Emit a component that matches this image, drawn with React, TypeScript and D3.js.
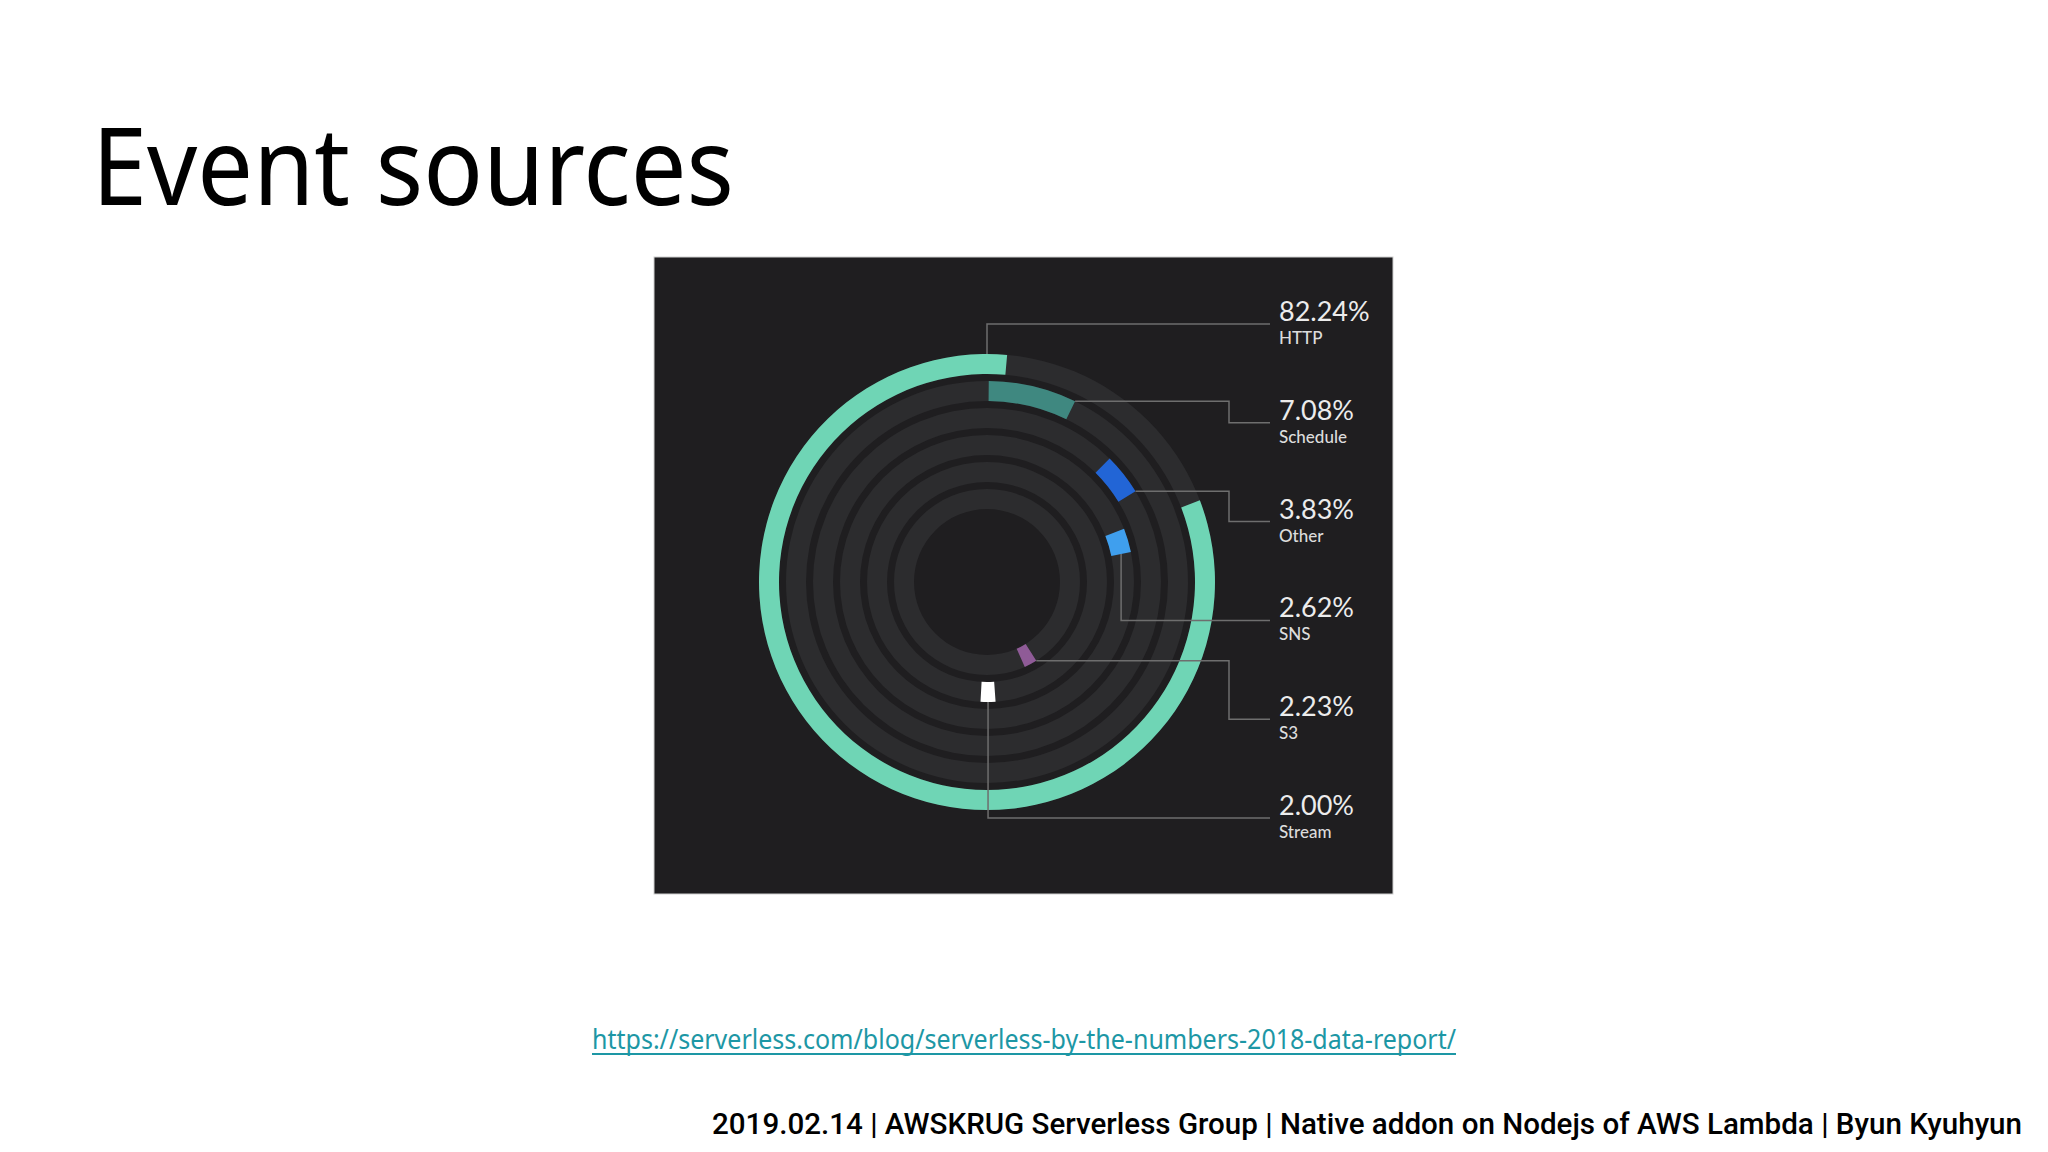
import * as d3 from "d3";

// event source shares, as labelled in the report
const categories = ["HTTP", "Schedule", "Other", "SNS", "S3", "Stream"];
const shares = [82.24, 7.08, 3.83, 2.62, 2.23, 2.0];
// where each arc begins, in degrees clockwise from 12 o'clock
const arcStartDeg = [69, 0.5, 44.8, 68.8, 148, 175.9];

const colors = ["#6fd5b5", "#3f8880", "#2265d6", "#3f9fee", "#8f5b97", "#ffffff"];
// ring index per category, 0 = outermost
const ringIndex = [0, 1, 2, 3, 5, 4];

type Anchor = { angle: "start" | "end" | "mid" | "zero"; radius: "outer" | "mid"; route: "hvh" | "vh" };
const anchors: Anchor[] = [
  { angle: "zero", radius: "outer", route: "vh" },
  { angle: "end", radius: "outer", route: "hvh" },
  { angle: "end", radius: "outer", route: "hvh" },
  { angle: "end", radius: "mid", route: "vh" },
  { angle: "start", radius: "outer", route: "hvh" },
  { angle: "mid", radius: "outer", route: "vh" },
];

const W = 2048;
const H = 1152;
const cx = 987;
const cy = 582;
const ringWidth = 20;

const fmt = d3.format(".2f");

const App = () => {
  const angle = d3.scaleLinear().domain([0, 100]).range([0, 2 * Math.PI]);
  const rad = (deg: number) => (deg * Math.PI) / 180;
  const outerR = d3.scaleLinear().domain([0, 5]).range([228, 93]);
  const labelY = d3.scaleLinear().domain([0, 5]).range([324, 818]);
  const arc = d3.arc<{ r: number; a0: number; a1: number }>()
    .innerRadius((d) => d.r - ringWidth)
    .outerRadius((d) => d.r)
    .startAngle((d) => d.a0)
    .endAngle((d) => d.a1);

  const labelX = 1279;
  const lineEnd = 1270;
  const elbowX = 1229;

  const items = categories.map((name, i) => {
    const r = outerR(ringIndex[i]);
    const a0 = rad(arcStartDeg[i]);
    const a1 = a0 + angle(shares[i]);
    const an = anchors[i];
    const a =
      an.angle === "start" ? a0 : an.angle === "end" ? a1 : an.angle === "mid" ? (a0 + a1) / 2 : 0;
    const rr = an.radius === "outer" ? r : r - ringWidth / 2;
    const px = cx + rr * Math.sin(a);
    const py = cy - rr * Math.cos(a);
    const ly = labelY(i);
    const path = d3.path();
    path.moveTo(px, py);
    if (an.route === "hvh") {
      path.lineTo(elbowX, py);
      path.lineTo(elbowX, ly);
    } else {
      path.lineTo(px, ly);
    }
    path.lineTo(lineEnd, ly);
    return { name, r, a0, a1, ly, line: path.toString(), color: colors[i], value: shares[i] };
  });

  return (
    <div style={{ position: "absolute", left: 0, top: 0 }}>
      <svg width={W} height={H} viewBox={`0 0 ${W} ${H}`} style={{ display: "block" }}>
        <rect x={0} y={0} width={W} height={H} fill="#ffffff" />
        <text
          x={92}
          y={205}
          fontFamily="'Noto Sans', sans-serif"
          fontSize={107}
          fill="#000"
          textLength={642}
          lengthAdjust="spacingAndGlyphs"
        >
          Event sources
        </text>

        <rect x={654} y={257} width={739} height={637} fill="#1f1e20" stroke="#cfcfcf" strokeWidth={1} />

        <g transform={`translate(${cx},${cy})`}>
          {items.map((d) => (
            <path
              key={`track-${d.name}`}
              d={arc({ r: d.r, a0: 0, a1: 2 * Math.PI }) || ""}
              fill="#2c2c2e"
            />
          ))}
          {items.map((d) => (
            <path key={`arc-${d.name}`} d={arc({ r: d.r, a0: d.a0, a1: d.a1 }) || ""} fill={d.color} />
          ))}
        </g>

        {items.map((d) => (
          <path key={`line-${d.name}`} d={d.line} fill="none" stroke="#6e6e6e" strokeWidth={1.5} />
        ))}

        <g fontFamily="Lato, 'Noto Sans', sans-serif">
          {items.map((d) => (
            <g key={`label-${d.name}`}>
              <text x={labelX} y={d.ly - 3} fontSize={27} fill="#ececec">
                {`${fmt(d.value)}%`}
              </text>
              <text x={labelX} y={d.ly + 20} fontSize={17} fill="#dcdcdc" fontWeight={500}>
                {d.name}
              </text>
            </g>
          ))}
        </g>

        <text
          x={592}
          y={1049}
          fontFamily="'Noto Sans', sans-serif"
          fontSize={27}
          fill="#1d97a5"
          textLength={864}
          lengthAdjust="spacingAndGlyphs"
        >
          https://serverless.com/blog/serverless-by-the-numbers-2018-data-report/
        </text>
        <line x1={592} x2={1456} y1={1054} y2={1054} stroke="#1d97a5" strokeWidth={2} />

        <text
          x={712}
          y={1134}
          fontFamily="Roboto, 'Noto Sans', sans-serif"
          fontSize={30}
          fontWeight={500}
          fill="#000"
          textLength={1310}
          lengthAdjust="spacingAndGlyphs"
        >
          2019.02.14 | AWSKRUG Serverless Group | Native addon on Nodejs of AWS Lambda | Byun Kyuhyun
        </text>
      </svg>
    </div>
  );
};

export default App;
